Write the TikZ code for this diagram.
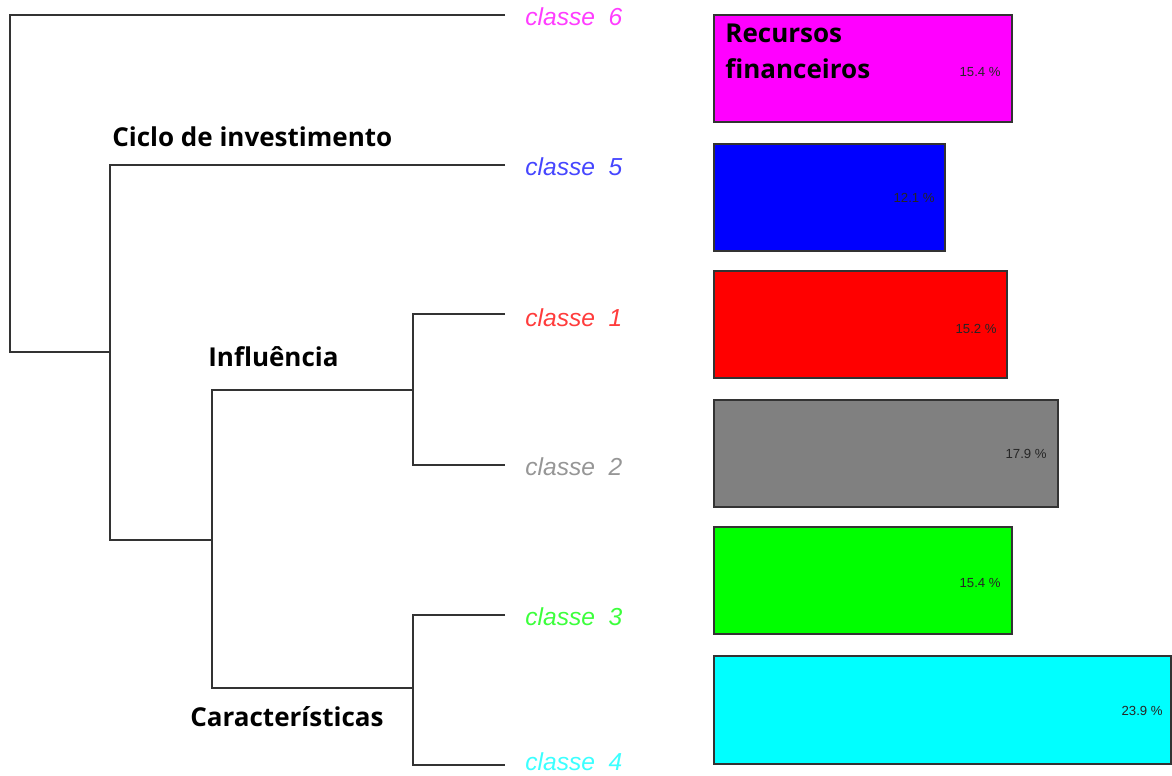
\documentclass[tikz,border=0pt]{standalone}
\usepackage{fontspec}
\setsansfont{Liberation Sans}
\newfontfamily\groupfont{Open Sans}
\definecolor{cmag}{RGB}{255,0,255}
\definecolor{cblue}{RGB}{0,0,255}
\definecolor{cred}{RGB}{255,0,0}
\definecolor{cgray}{RGB}{128,128,128}
\definecolor{cgreen}{RGB}{0,255,0}
\definecolor{ccyan}{RGB}{0,255,255}
\definecolor{tmag}{RGB}{255,60,255}
\definecolor{tblue}{RGB}{70,70,255}
\definecolor{tred}{RGB}{255,60,60}
\definecolor{tgray}{RGB}{150,150,150}
\definecolor{tgreen}{RGB}{60,255,60}
\definecolor{tcyan}{RGB}{60,255,255}
\begin{document}
\begin{tikzpicture}[x=0.02cm,y=-0.02cm,
  branch/.style={draw=black!80,line width=1.1pt},
  leaf/.style={anchor=west,inner sep=0pt,font=\sffamily\itshape\fontsize{14}{16}\selectfont},
  group/.style={anchor=west,inner sep=0pt,font=\groupfont\bfseries\fontsize{14.8}{17}\selectfont},
  bar/.style={draw=black!80,line width=0.9pt},
  pct/.style={anchor=east,inner sep=0pt,text=black!85,font=\sffamily\fontsize{7.5}{9}\selectfont}]
\useasboundingbox (0,0) rectangle (1172,776);

% leaf labels
\node[leaf,text=tmag]   (c6) at (525,17)  {classe\ \ 6};
\node[leaf,text=tblue]  (c5) at (525,167) {classe\ \ 5};
\node[leaf,text=tred]   (c1) at (525,318) {classe\ \ 1};
\node[leaf,text=tgray]  (c2) at (525,467) {classe\ \ 2};
\node[leaf,text=tgreen] (c3) at (525,617) {classe\ \ 3};
\node[leaf,text=tcyan]  (c4) at (525,762) {classe\ \ 4};

% joins of the tree
\coordinate (root) at (10,352);
\coordinate (ciclo) at (110,540);
\coordinate (infl) at (212,390);
\coordinate (carac) at (212,688);
\coordinate (j12) at (413,465);
\coordinate (j34) at (413,765);
\coordinate (mid) at (212,540);

% leaf ends
\coordinate (e6) at (505,15);
\coordinate (e5) at (505,165);
\coordinate (e1) at (505,314);
\coordinate (e2) at (505,465);
\coordinate (e3) at (505,615);
\coordinate (e4) at (505,765);

\draw[branch] (e6) -| (root) -- (root -| ciclo);
\draw[branch] (e5) -| (ciclo) -- (mid);
\draw[branch] (infl |- mid) -- (infl) -- (infl -| j12);
\draw[branch] (infl |- mid) -- (carac) -- (carac -| j34);
\draw[branch] (e1) -| (j12) -- (e2);
\draw[branch] (e3) -| (j34) -- (e4);

% group labels
\node[group] (gciclo) at (112,137) {Ciclo de investimento};
\node[group] (ginfl)  at (208,357) {Influência};
\node[group] (gcarac) at (190,717) {Características};

% bars
\draw[bar,fill=cmag]   (714,15)  rectangle (1012,122);
\draw[bar,fill=cblue]  (714,144) rectangle (945,251);
\draw[bar,fill=cred]   (714,271) rectangle (1007,378);
\draw[bar,fill=cgray]  (714,400) rectangle (1058,507);
\draw[bar,fill=cgreen] (714,527) rectangle (1012,634);
\draw[bar,fill=ccyan]  (714,656) rectangle (1171,764);

\node[pct] (p6) at (1001,72)  {15.4 \%};
\node[pct] (p5) at (935,198)  {12.1 \%};
\node[pct] (p1) at (997,329)  {15.2 \%};
\node[pct] (p2) at (1047,454) {17.9 \%};
\node[pct] (p3) at (1001,583) {15.4 \%};
\node[pct] (p4) at (1163,711) {23.9 \%};

\node[group] (grec1) at (725,33) {Recursos};
\node[group] (grec2) at (725,69) {financeiros};
\end{tikzpicture}
\end{document}
